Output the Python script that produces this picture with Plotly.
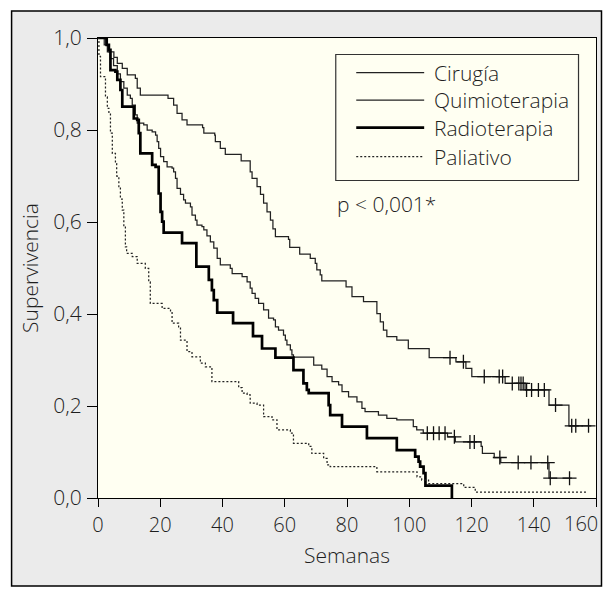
import plotly.graph_objects as go
import numpy as np

# ---------------- data ----------------
series_names = ["Cirugía", "Quimioterapia", "Radioterapia", "Paliativo"]

weeks_cirugia = [0, 2.5, 3.5, 5.1, 6.2, 7.8, 9.4, 12.0, 12.6, 13.6, 22.5, 24.3, 25.4, 27.0,
                 28.6, 33.6, 34.0, 37.5, 37.7, 39.3, 40.9, 46.0, 48.9, 49.5, 51.1, 52.2, 53.2,
                 54.3, 55.4, 56.2, 57.0, 61.2, 61.6, 64.8, 68.2, 69.8, 70.3, 71.4, 71.9, 79.7,
                 81.6, 85.3, 89.6, 90.7, 91.7, 92.8, 96.0, 99.7, 106.4, 115.0, 118.2, 120.1,
                 130.8, 137.2, 144.9, 151.3]
surv_cirugia = [1.0, 0.985, 0.97, 0.958, 0.945, 0.934, 0.92, 0.912, 0.891, 0.876, 0.869, 0.854,
                0.836, 0.822, 0.811, 0.805, 0.793, 0.789, 0.775, 0.760, 0.747, 0.733, 0.709,
                0.695, 0.677, 0.660, 0.641, 0.622, 0.604, 0.585, 0.568, 0.562, 0.545, 0.530,
                0.521, 0.510, 0.496, 0.485, 0.472, 0.459, 0.438, 0.427, 0.401, 0.383, 0.365,
                0.351, 0.343, 0.325, 0.305, 0.296, 0.282, 0.264, 0.249, 0.235, 0.202, 0.157]
end_cirugia = 158.5
censor_cirugia = [113.1, 117.4, 124.1, 128.9, 130.0, 133.1, 135.2, 135.9, 136.6, 137.7, 139.3,
                  141.5, 143.4, 147.0, 152.2, 153.5, 157.6]

weeks_quimio = [0, 2.0, 3.0, 4.0, 5.0, 6.2, 7.2, 8.3, 9.4, 10.4, 11.0, 12.0, 12.6, 14.7, 15.8,
                17.4, 18.5, 19.0, 19.5, 20.1, 21.1, 22.2, 23.8, 24.3, 24.9, 25.4, 26.5, 27.5,
                28.1, 29.7, 30.2, 31.3, 31.8, 33.4, 34.0, 35.0, 36.1, 37.2, 38.3, 39.3, 42.5,
                43.1, 46.3, 47.9, 48.9, 49.5, 50.5, 51.6, 53.2, 54.8, 56.4, 57.0, 58.0, 59.6,
                60.2, 60.7, 61.8, 62.3, 62.8, 69.3, 71.9, 73.6, 75.2, 77.3, 78.4, 80.5, 83.2,
                84.8, 85.8, 90.1, 92.8, 96.0, 101.3, 102.4, 104.5, 112.3, 114.8, 123.1, 123.5,
                127.3, 129.4, 144.9]
surv_quimio = [1.0, 0.985, 0.97, 0.955, 0.94, 0.922, 0.905, 0.891, 0.876, 0.869, 0.854, 0.833,
               0.815, 0.811, 0.800, 0.796, 0.789, 0.775, 0.760, 0.742, 0.731, 0.720, 0.717,
               0.709, 0.695, 0.673, 0.660, 0.648, 0.641, 0.633, 0.615, 0.604, 0.593, 0.590,
               0.583, 0.570, 0.557, 0.543, 0.521, 0.507, 0.499, 0.488, 0.481, 0.470, 0.456,
               0.445, 0.434, 0.423, 0.409, 0.391, 0.387, 0.372, 0.365, 0.354, 0.343, 0.333,
               0.322, 0.311, 0.306, 0.289, 0.280, 0.264, 0.253, 0.246, 0.231, 0.220, 0.209,
               0.195, 0.188, 0.180, 0.173, 0.170, 0.155, 0.148, 0.141, 0.133, 0.122, 0.112,
               0.097, 0.088, 0.077, 0.043]
end_quimio = 152.2
censor_quimio = [105.8, 107.8, 109.6, 111.5, 114.5, 119.5, 120.9, 129.1, 135.0, 139.1, 144.5,
                 145.3, 151.5]

weeks_radio = [0, 2.8, 3.5, 4.0, 5.6, 6.2, 7.2, 7.8, 11.5, 12.6, 13.1, 13.6, 17.4, 18.5, 19.5,
               20.1, 20.6, 21.1, 27.0, 31.6, 35.6, 36.6, 37.2, 38.3, 43.4, 49.8, 52.7, 57.0,
               62.8, 66.0, 67.1, 67.7, 74.1, 74.6, 78.4, 86.4, 96.0, 101.9, 103.0, 103.5,
               104.6, 105.2, 113.7]
surv_radio = [1.0, 0.985, 0.974, 0.930, 0.927, 0.909, 0.887, 0.851, 0.825, 0.822, 0.793, 0.749,
              0.724, 0.720, 0.662, 0.622, 0.601, 0.577, 0.554, 0.503, 0.474, 0.452, 0.430,
              0.403, 0.380, 0.352, 0.325, 0.305, 0.278, 0.249, 0.235, 0.228, 0.202, 0.180,
              0.155, 0.130, 0.104, 0.090, 0.079, 0.068, 0.054, 0.027, 0.0]
end_radio = 113.7
censor_radio = []

weeks_paliativo = [0, 0.3, 0.8, 2.4, 3.0, 3.5, 4.0, 4.6, 5.6, 6.0, 6.7, 7.2, 7.8, 8.3, 8.8, 9.2,
                   11.0, 12.6, 15.2, 16.3, 16.8, 20.6, 23.3, 23.8, 25.9, 26.5, 28.6, 30.2, 32.9,
                   34.5, 36.6, 45.2, 46.3, 47.9, 48.9, 51.1, 53.2, 55.9, 57.5, 61.8, 62.8, 67.7,
                   68.7, 72.5, 73.6, 74.6, 89.6, 102.5, 104.0, 106.2, 117.5, 121.2]
surv_paliativo = [1.0, 0.96, 0.916, 0.872, 0.847, 0.836, 0.793, 0.749, 0.727, 0.700, 0.677,
                  0.650, 0.626, 0.590, 0.546, 0.532, 0.525, 0.510, 0.499, 0.470, 0.423, 0.412,
                  0.405, 0.380, 0.372, 0.343, 0.318, 0.307, 0.293, 0.285, 0.253, 0.240, 0.228,
                  0.224, 0.206, 0.202, 0.177, 0.170, 0.148, 0.141, 0.119, 0.112, 0.097, 0.086,
                  0.072, 0.068, 0.057, 0.046, 0.039, 0.031, 0.023, 0.013]
end_paliativo = 157.0
censor_paliativo = []

x_tickvals = [0, 20, 40, 60, 80, 100, 120, 140, 160]
x_ticktext = ["0", "20", "40", "60", "80", "100", "120", "140", "160"]
y_tickvals = [0.0, 0.2, 0.4, 0.6, 0.8, 1.0]
y_ticktext = ["0,0", "0,2", "0,4", "0,6", "0,8", "1,0"]
p_text = "p < 0,001*"

# ---------------- styling ----------------
OFF = 8  # page body margin
W, H = 611 - 2 * OFF, 590 - OFF
ML, MR, MT, MB = 97.5 - OFF, 611 - OFF - 596, 38 - OFF, 590 - 498
PW, PH = W - ML - MR, H - MT - MB
FONT = "Open Sans"
TXT = "#1e1e1e"
FS = 21

def px(x):
    return (x - OFF - ML) / PW

def py(y):
    return (H + OFF - MB - y) / PH

styles = [
    dict(color="#222222", width=1.25, dash="solid"),
    dict(color="#222222", width=1.25, dash="solid"),
    dict(color="#000000", width=2.7, dash="solid"),
    dict(color="#222222", width=1.25, dash="2px,2px"),
]

data = [
    (weeks_cirugia, surv_cirugia, end_cirugia, censor_cirugia),
    (weeks_quimio, surv_quimio, end_quimio, censor_quimio),
    (weeks_radio, surv_radio, end_radio, censor_radio),
    (weeks_paliativo, surv_paliativo, end_paliativo, censor_paliativo),
]

fig = go.Figure()
for name, (t, s, end, cens), st in zip(series_names, data, styles):
    xs = list(t) + ([end] if end > t[-1] else [])
    ys = list(s) + ([s[-1]] if end > t[-1] else [])
    fig.add_trace(go.Scatter(x=xs, y=ys, mode="lines", line_shape="hv", name=name,
                             line=st, showlegend=False, hoverinfo="x+y+name"))
    if cens:
        idx = np.searchsorted(np.array(t), np.array(cens), side="right") - 1
        cy = [s[i] for i in idx]
        fig.add_trace(go.Scatter(x=cens, y=cy, mode="markers", name=name + " (censurado)",
                                 showlegend=False,
                                 marker=dict(symbol="cross-thin", size=10,
                                             line=dict(color="#111111", width=1.3))))

shapes = []
# outer frame
shapes.append(dict(type="rect", xref="paper", yref="paper", layer="below",
                   x0=px(11), x1=px(601.5), y0=py(586), y1=py(11),
                   fillcolor="#ebebeb", line=dict(color="#000000", width=1.5)))
# plot area background
shapes.append(dict(type="rect", xref="paper", yref="paper", layer="below",
                   x0=0, x1=1, y0=0, y1=1, fillcolor="#fffff2", line=dict(width=0)))
# legend box
shapes.append(dict(type="rect", xref="paper", yref="paper", layer="above",
                   x0=px(335.5), x1=px(578.5), y0=py(180.5), y1=py(54.5),
                   fillcolor="rgba(0,0,0,0)", line=dict(color="#333333", width=1.2)))
annotations = []
rows = [72.7, 100.2, 127.7, 156.7]
for name, st, ry in zip(series_names, styles, rows):
    shapes.append(dict(type="line", xref="paper", yref="paper", layer="above",
                       x0=px(356), x1=px(424), y0=py(ry), y1=py(ry),
                       line=dict(color=st["color"], width=st["width"], dash=st["dash"])))
    annotations.append(dict(xref="paper", yref="paper", x=px(432), y=py(ry),
                            xanchor="left", yanchor="middle", showarrow=False, text=name,
                            font=dict(family=FONT, size=FS, color=TXT, weight=300)))
annotations.append(dict(xref="paper", yref="paper", x=px(335), y=py(204),
                        xanchor="left", yanchor="middle", showarrow=False, text=p_text,
                        font=dict(family=FONT, size=FS, color=TXT, weight=300)))

axis_font = dict(family=FONT, size=FS, color=TXT, weight=300)
xtick_font = dict(family=FONT, size=20, color=TXT, weight=300)
# last x tick label drawn as text nudged left so it stays inside the page
annotations.append(dict(xref="paper", yref="paper", x=px(600), y=py(523),
                        xanchor="right", yanchor="middle", showarrow=False,
                        text=x_ticktext[-1], font=xtick_font))
shown_xticktext = x_ticktext[:-1] + [""]

fig.update_layout(
    width=W, height=H, autosize=False,
    margin=dict(l=ML, r=MR, t=MT, b=MB, pad=0),
    paper_bgcolor="#ffffff", plot_bgcolor="rgba(0,0,0,0)",
    shapes=shapes, annotations=annotations,
    font=axis_font,
    xaxis=dict(range=[0, 160], tickvals=x_tickvals, ticktext=shown_xticktext,
               showline=True, linecolor="#000000", linewidth=1.3, mirror=True,
               ticks="outside", ticklen=8, tickwidth=1.2, tickcolor="#000000",
               showgrid=False, zeroline=False, ticklabelstandoff=1,
               automargin=False,
               tickfont=xtick_font,
               title=dict(text="Semanas", font=axis_font, standoff=11)),
    yaxis=dict(range=[0, 1], tickvals=y_tickvals, ticktext=y_ticktext,
               showline=True, linecolor="#000000", linewidth=1.3, mirror=True,
               ticks="outside", ticklen=10, tickwidth=1.2, tickcolor="#000000",
               showgrid=False, zeroline=False, ticklabelstandoff=1, automargin=False,
               tickfont=axis_font,
               title=dict(text="Supervivencia", font=axis_font, standoff=8)),
)

fig.write_html("out.html")
